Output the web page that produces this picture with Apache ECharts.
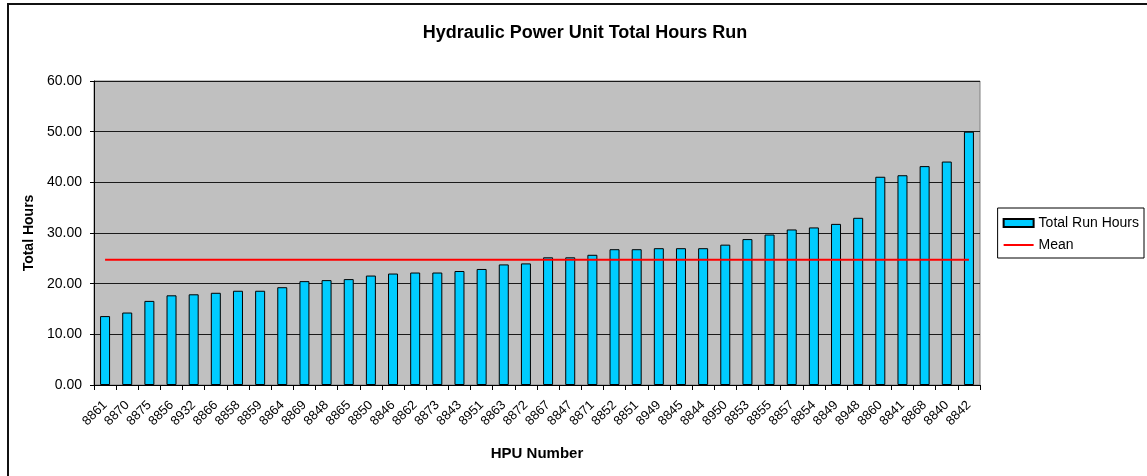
<!DOCTYPE html>
<html>
<head>
<meta charset="utf-8">
<script src="https://cdn.jsdelivr.net/npm/echarts@6/dist/echarts.min.js"></script>
<style>
  html, body { margin: 0; padding: 0; background: #fff; }
  #frame { position: absolute; left: 7px; top: 3px; width: 1140px; height: 473px; border-top: 2px solid #111; border-left: 2px solid #111; box-sizing: border-box; }
  #chart { width: 1147px; height: 476px; }
</style>
</head>
<body>
<div id="chart"></div>
<div id="frame"></div>
<script>
// HPU numbers, sorted by hours run
var hpuNumbers = ['8861', '8870', '8875', '8856', '8932', '8866', '8858', '8859', '8864', '8869',
    '8848', '8865', '8850', '8846', '8862', '8873', '8843', '8951', '8863', '8872',
    '8867', '8847', '8871', '8852', '8851', '8949', '8845', '8844', '8950', '8853',
    '8855', '8857', '8854', '8849', '8948', '8860', '8841', '8868', '8840', '8842'];

var totalRunHours = [13.6, 14.3, 16.6, 17.7, 17.9, 18.2, 18.6, 18.6, 19.3, 20.5,
    20.7, 20.9, 21.6, 22.0, 22.2, 22.2, 22.5, 22.9, 23.8, 24.0,
    25.2, 25.2, 25.7, 26.8, 26.8, 27.0, 27.0, 27.0, 27.7, 28.8,
    29.7, 30.7, 31.1, 31.8, 33.0, 41.1, 41.4, 43.2, 44.1, 50.0];

var meanHours = [24.7, 24.7, 24.7, 24.7, 24.7, 24.7, 24.7, 24.7, 24.7, 24.7,
    24.7, 24.7, 24.7, 24.7, 24.7, 24.7, 24.7, 24.7, 24.7, 24.7,
    24.7, 24.7, 24.7, 24.7, 24.7, 24.7, 24.7, 24.7, 24.7, 24.7,
    24.7, 24.7, 24.7, 24.7, 24.7, 24.7, 24.7, 24.7, 24.7, 24.7];

var chart = echarts.init(document.getElementById('chart'));

var font = 'Arial, "Liberation Sans", sans-serif';

chart.setOption({
    backgroundColor: '#fff',
    animation: false,
    title: {
        text: 'Hydraulic Power Unit Total Hours Run',
        left: 580,
        textAlign: 'center',
        top: 19,
        textStyle: { fontFamily: font, fontSize: 18, fontWeight: 'bold', color: '#000' }
    },
    legend: {
        orient: 'vertical',
        right: 3,
        top: 208,
        padding: [8, 5, 6, 5],
        itemGap: 8,
        borderColor: '#000',
        borderWidth: 1,
        backgroundColor: '#fff',
        itemWidth: 30,
        itemHeight: 8,
        textStyle: { fontFamily: font, fontSize: 14, color: '#000' },
        data: [
            { name: 'Total Run Hours', icon: 'rect' },
            { name: 'Mean', itemStyle: { opacity: 0 } }
        ]
    },
    grid: {
        left: 94,
        right: 167,
        top: 81,
        bottom: 91,
        show: true,
        backgroundColor: '#c0c0c0',
        borderColor: '#808080',
        borderWidth: 1
    },
    xAxis: {
        type: 'category',
        data: hpuNumbers,
        name: 'HPU Number',
        nameLocation: 'middle',
        nameGap: 61,
        nameTextStyle: { fontFamily: font, fontSize: 15, fontWeight: 'bold', color: '#000' },
        axisLine: { lineStyle: { color: '#000' } },
        axisTick: { show: true, length: 5, lineStyle: { color: '#000' } },
        axisLabel: { rotate: 45, interval: 0, margin: 18, fontFamily: font, fontSize: 13, color: '#000' }
    },
    yAxis: {
        type: 'value',
        min: 0,
        max: 60,
        interval: 10,
        name: 'Total Hours',
        nameLocation: 'middle',
        nameGap: 54,
        nameTextStyle: { fontFamily: font, fontSize: 14, fontWeight: 'bold', color: '#000' },
        axisLine: { show: true, lineStyle: { color: '#000' } },
        axisTick: { show: true, length: 4, lineStyle: { color: '#000' } },
        axisLabel: {
            fontFamily: font, fontSize: 14, color: '#000', margin: 12,
            formatter: function (v) { return v.toFixed(2); }
        },
        splitLine: { lineStyle: { color: '#1a1a1a', width: 1 } }
    },
    series: [
        {
            name: 'Total Run Hours',
            type: 'bar',
            data: totalRunHours,
            barWidth: 10,
            itemStyle: { color: '#00ccff', borderColor: '#000', borderWidth: 1 }
        },
        {
            name: 'Mean',
            type: 'line',
            data: meanHours,
            symbol: 'none',
            lineStyle: { color: '#ff0000', width: 2 },
            itemStyle: { color: '#ff0000' }
        }
    ]
});
</script>
</body>
</html>
